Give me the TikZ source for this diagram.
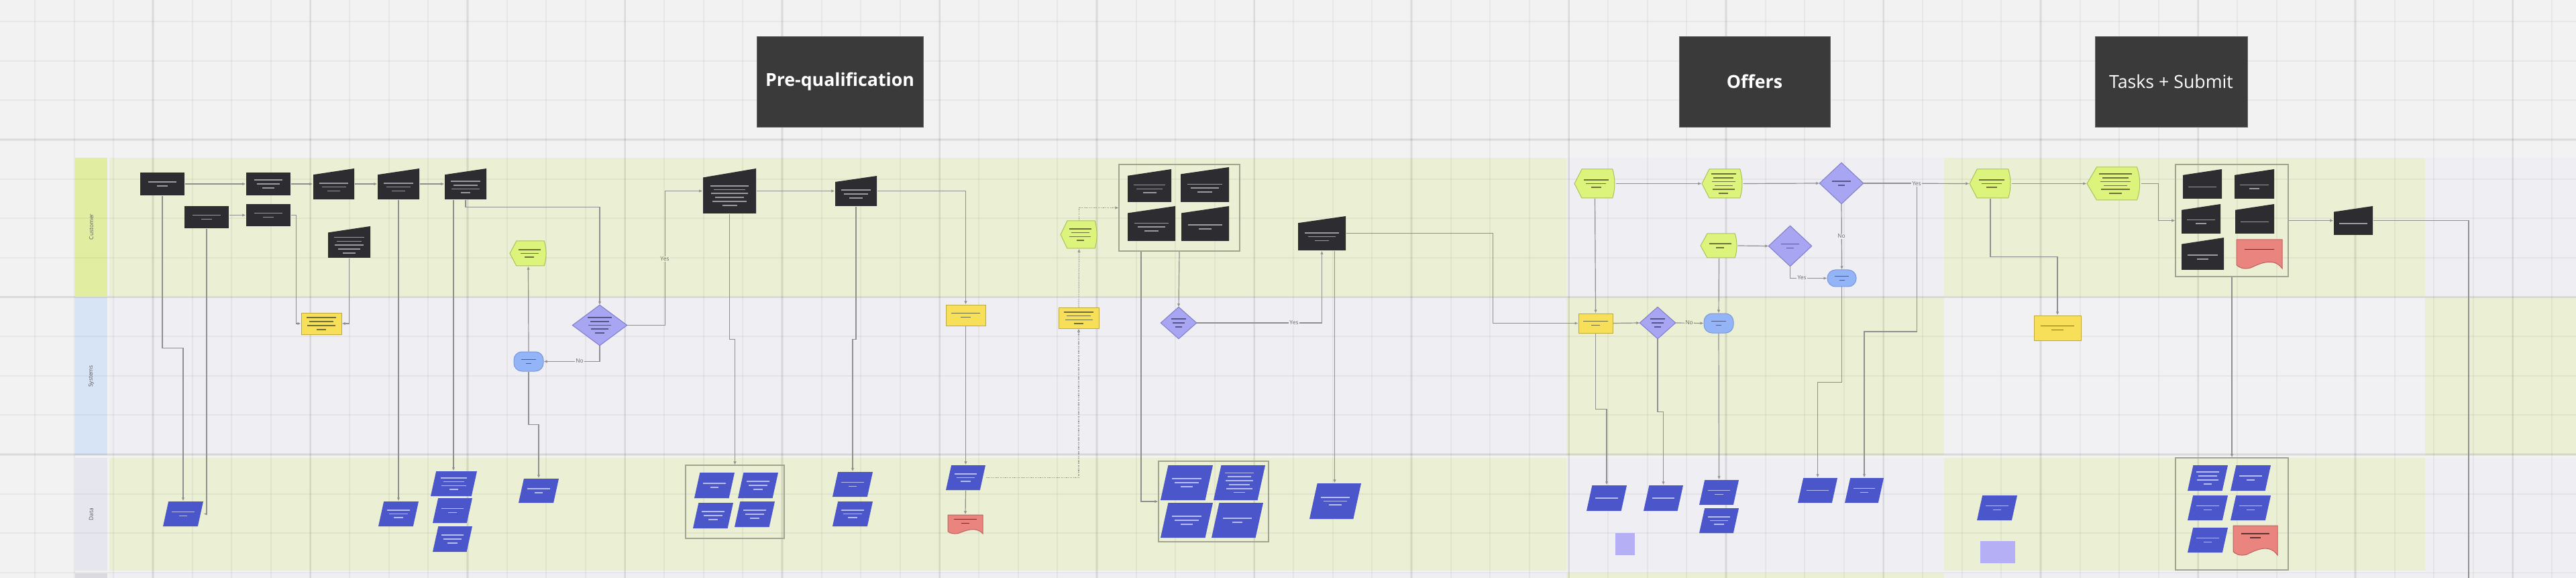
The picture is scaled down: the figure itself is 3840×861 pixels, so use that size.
\documentclass[tikz,border=0pt]{standalone}
\usepackage{fontspec}
\setmainfont{Open Sans}
\usetikzlibrary{fit,calc,arrows.meta}
\definecolor{bg}{HTML}{F2F2F2}
\definecolor{lgr}{HTML}{EBEFD4}
\definecolor{llv}{HTML}{EEEEF3}
\definecolor{lgy}{HTML}{F1F1F3}
\definecolor{lbc}{HTML}{E1EDA1}
\definecolor{lbs}{HTML}{D7E4F5}
\definecolor{lbd}{HTML}{E6E7EE}
\definecolor{lbf}{HTML}{DADAE0}
\definecolor{hdr}{HTML}{3A3A3A}
\definecolor{dk}{HTML}{2C2C31}
\definecolor{blu}{HTML}{4B56CB}
\definecolor{yel}{HTML}{F7DF5A}
\definecolor{yelb}{HTML}{BFA93C}
\definecolor{grn}{HTML}{DCF47C}
\definecolor{grnb}{HTML}{A9C158}
\definecolor{dia}{HTML}{A8A6F2}
\definecolor{diab}{HTML}{7E7CCB}
\definecolor{rnd}{HTML}{93B5F7}
\definecolor{rndb}{HTML}{7A98D8}
\definecolor{rdoc}{HTML}{E9847E}
\definecolor{rdocb}{HTML}{C06060}
\definecolor{lpur}{HTML}{B5AFF6}
\definecolor{cline}{HTML}{8F8F8F}
\definecolor{barg}{HTML}{9A9AA0}
\definecolor{barb}{HTML}{B8BEF2}
\definecolor{baro}{HTML}{6E6E3A}
\definecolor{bard}{HTML}{55558A}
\definecolor{barn}{HTML}{4E5C8C}
\definecolor{barr}{HTML}{5A3030}
\definecolor{grpb}{HTML}{A3A392}

\newcommand\BARS[8]{%
  \pgfmathsetmacro\bcx{((#1)+(#3))/2}%
  \pgfmathsetmacro\bcy{((#2)+(#4))/2+(#7)}%
  \pgfmathsetmacro\bhw{((#3)-(#1))*#8}%
  \foreach \bi in {1,...,#5}{%
    \pgfmathsetmacro\byy{\bcy+(\bi-(#5+1)/2)*5.8}%
    \pgfmathsetmacro\bfr{{1,0.82,0.95,0.74,0.9,0.86}[\bi-1]}%
    \pgfmathsetmacro\bw{\bhw*\bfr*ifthenelse(and(equal(\bi,#5),greater(#5,1)),0.45,1)}%
    \draw[draw=#6,line width=0.017cm] ({\bcx-\bw},\byy) -- ({\bcx+\bw},\byy);%
  }%
}
\newcommand\RECT[6]{%
  \node[fit={(#2,#3)(#4,#5)},inner sep=0pt,fill=dk] (#1) {};%
  \BARS{#2}{#3}{#4}{#5}{#6}{barg}{0}{0.32}}
\newcommand\MI[6]{%
  \node[fit={(#2,#3)(#4,#5)},inner sep=0pt] (#1) {};%
  \fill[dk] (#2,#5) -- (#4,#5) -- (#4,#3) -- (#2,{#3+0.2*(#5-#3)}) -- cycle;%
  \BARS{#2}{#3}{#4}{#5}{#6}{barg}{0.1*(#5-#3)}{0.36}}
\newcommand\PAR[6]{%
  \node[fit={(#2,#3)(#4,#5)},inner sep=0pt] (#1) {};%
  \fill[blu] ({#2+0.22*(#5-#3)},#3) -- (#4,#3) -- ({#4-0.22*(#5-#3)},#5) -- (#2,#5) -- cycle;%
  \BARS{#2}{#3}{#4}{#5}{#6}{barb}{0}{0.28}}
\newcommand\YEL[6]{%
  \node[fit={(#2,#3)(#4,#5)},inner sep=0pt,fill=yel,draw=yelb,line width=0.01cm] (#1) {};%
  \BARS{#2}{#3}{#4}{#5}{#6}{baro}{0}{0.36}}
\newcommand\DISP[6]{%
  \node[fit={(#2,#3)(#4,#5)},inner sep=0pt] (#1) {};%
  \filldraw[fill=grn,draw=grnb,line width=0.01cm] (#2,{(#3+#5)/2}) -- ({#2+0.18*(#4-#2)},#3) -- ({#4-0.07*(#4-#2)},#3) .. controls (#4,{#3+0.3*(#5-#3)}) and (#4,{#5-0.3*(#5-#3)}) .. ({#4-0.07*(#4-#2)},#5) -- ({#2+0.18*(#4-#2)},#5) -- cycle;%
  \BARS{(#2+0.06*(#4-#2))}{#3}{#4}{#5}{#6}{baro}{0}{0.32}}
\newcommand\DIA[6]{%
  \node[fit={(#2,#3)(#4,#5)},inner sep=0pt] (#1) {};%
  \filldraw[fill=dia,draw=diab,line width=0.01cm] (#1.north) -- (#1.east) -- (#1.south) -- (#1.west) -- cycle;%
  \BARS{#2}{#3}{#4}{#5}{#6}{bard}{0}{0.22}}
\newcommand\RND[6]{%
  \node[fit={(#2,#3)(#4,#5)},inner sep=0pt,fill=rnd,draw=rndb,line width=0.01cm,rounded corners=0.12cm] (#1) {};%
  \BARS{#2}{#3}{#4}{#5}{#6}{barn}{0}{0.25}}
\newcommand\DOC[6]{%
  \node[fit={(#2,#3)(#4,#5)},inner sep=0pt] (#1) {};%
  \pgfmathsetmacro\docw{#4-#2}\pgfmathsetmacro\doca{0.2*(#5-#3)}%
  \filldraw[fill=rdoc,draw=rdocb,line width=0.01cm] (#2,#3) -- (#4,#3) -- (#4,#5) .. controls ({#4-0.2*\docw},{#5-2.2*\doca}) and ({#2+0.45*\docw},{#5-0.6*\doca}) .. ({#2+0.3*\docw},{#5-0.1*\doca}) .. controls ({#2+0.15*\docw},{#5+0.2*\doca}) and ({#2+0.05*\docw},{#5-0.2*\doca}) .. (#2,{#5-0.6*\doca}) -- cycle;%
  \BARS{#2}{#3}{#4}{(#5-1.6*\doca)}{#6}{barr}{0}{0.32}}
\newcommand\GRP[5]{%
  \node[fit={(#2,#3)(#4,#5)},inner sep=0pt,draw=grpb,line width=0.012cm] (#1) {};}

\begin{document}
\begin{tikzpicture}[x=0.01cm,y=-0.01cm,
  cn/.style={draw=cline,line width=0.012cm,-{Latex[length=0.05cm,width=0.045cm]}},
  cnd/.style={cn,dash pattern=on 0.012cm off 0.014cm},
  cnn/.style={draw=cline,line width=0.012cm},
  lbl/.style={font=\fontsize{2.4}{2.6}\selectfont,text=black!60,inner sep=0.4pt},
  lane/.style={inner sep=0pt},
  lanetext/.style={rotate=90,font=\fontsize{2.4}{3}\selectfont,text=black!65},
  hdrbox/.style={inner sep=0pt,fill=hdr,draw=black!60,line width=0.008cm}]
\useasboundingbox (0,0) rectangle (3840,861);
\fill[bg] (0,0) rectangle (3840,861);
% lanes
\node[lane,fit={(112,235)(160,441)},fill=lbc,label={[lanetext]center:Customer}] (LC) {};
\fill[lgr] (163,235) rectangle (2335,441);
\fill[llv] (2335,235) rectangle (2898,441);
\fill[lgr] (2898,235) rectangle (3615,441);
\fill[llv] (3615,235) rectangle (3840,441);
\node[lane,fit={(112,443)(160,678)},fill=lbs,label={[lanetext]center:Systems}] (LS) {};
\fill[llv] (163,443) rectangle (2335,678);
\fill[lgr] (2335,443) rectangle (2898,678);
\fill[lgy] (2898,443) rectangle (3615,678);
\fill[lgr] (3615,443) rectangle (3840,678);
\node[lane,fit={(112,682)(160,850)},fill=lbd,label={[lanetext]center:Data}] (LD) {};
\fill[lgr] (163,682) rectangle (2335,850);
\fill[llv] (2335,682) rectangle (2898,850);
\fill[lgr] (2898,682) rectangle (3615,850);
\fill[llv] (3615,682) rectangle (3840,850);
\node[lane,fit={(112,854)(160,861)},fill=lbf] (LF) {};
\fill[llv] (163,854) rectangle (2335,861);
\fill[lgr] (2335,854) rectangle (2898,861);
\fill[llv] (2898,854) rectangle (3840,861);
% grid
\foreach \k in {0,...,66}{\pgfmathsetmacro\gx{-6.5+58.625*\k}
  \draw[black,opacity=0.045,line width=0.02cm] (\gx,0) -- (\gx,861);}
\foreach \k in {1,...,16}{\pgfmathsetmacro\gx{-6.5+234.5*\k}
  \draw[black,opacity=0.05,line width=0.035cm] (\gx,0) -- (\gx,861);}
\foreach \k in {-3,...,11}{\pgfmathsetmacro\gy{208+58.625*\k}
  \draw[black,opacity=0.045,line width=0.02cm] (0,\gy) -- (3840,\gy);}
\foreach \k in {0,4,8}{\pgfmathsetmacro\gy{208+58.625*\k}
  \draw[black,opacity=0.05,line width=0.035cm] (0,\gy) -- (3840,\gy);}
% headers
\node[hdrbox,fit={(1128,54)(1376,189)},label={[font=\fontsize{7.6}{9}\selectfont\bfseries,text=white]center:Pre-qualification}] (HP) {};
\node[hdrbox,fit={(2503,54)(2728,189)},label={[font=\fontsize{7.6}{9}\selectfont\bfseries,text=white]center:Offers}] (HO) {};
\node[hdrbox,fit={(3123,54)(3350,189)},label={[font=\fontsize{7.6}{9}\selectfont,text=white]center:Tasks + Submit}] (HT) {};
% customer lane
\RECT{C1}{209}{257}{275}{291}{2}
\RECT{C2}{367}{257}{433}{291}{3}
\MI{C3}{467}{251}{528}{297}{3}
\MI{C4}{563}{251}{625}{297}{3}
\MI{C5}{663}{251}{725}{297}{4}
\RECT{C6}{275}{307}{341}{340}{2}
\RECT{C7}{367}{304}{433}{337}{2}
\MI{C8}{489}{337}{552}{384}{5}
\DISP{G1}{760}{359}{815}{396}{3}
\MI{P1}{1048}{251}{1127}{318}{6}
\MI{P2}{1245}{262}{1307}{307}{3}
\DISP{G2}{1581}{329}{1636}{370}{4}
\GRP{GC1}{1668}{245}{1848}{374}
\MI{M1}{1681}{252}{1746}{301}{3}
\MI{M2}{1760}{249}{1832}{301}{3}
\MI{M3}{1681}{307}{1752}{359}{3}
\MI{M4}{1761}{307}{1832}{359}{2}
\MI{C9}{1935}{322}{2006}{373}{3}
\DISP{G3}{2347}{252}{2408}{295}{3}
\DISP{G4}{2537}{252}{2598}{295}{6}
\DIA{DM3}{2713}{243}{2777}{303}{2}
\DISP{G6}{2535}{348}{2590}{384}{2}
\DIA{DM4}{2637}{337}{2700}{396}{2}
\RND{O2}{2724}{402}{2767}{427}{2}
\DISP{G5}{2936}{252}{2998}{295}{3}
\DISP{G7}{3111}{249}{3191}{298}{6}
\GRP{GC2}{3243}{245}{3411}{412}
\MI{T1}{3254}{252}{3312}{296}{1}
\MI{T2}{3331}{252}{3390}{296}{2}
\MI{T3}{3252}{304}{3310}{348}{2}
\MI{T4}{3332}{304}{3390}{348}{1}
\MI{T5}{3252}{354}{3315}{402}{2}
\DOC{T6}{3334}{357}{3402}{400}{1}
\MI{C10}{3479}{307}{3537}{350}{1}
% systems lane
\YEL{S1}{449}{466}{509}{498}{4}
\DIA{DM1}{854}{455}{934}{514}{5}
\RND{O1}{766}{524}{810}{553}{2}
\YEL{S2}{1410}{454}{1469}{485}{2}
\YEL{S3}{1578}{458}{1638}{489}{4}
\DIA{DM2}{1731}{458}{1783}{504}{3}
\YEL{S4}{2353}{467}{2404}{496}{2}
\DIA{DM5}{2445}{458}{2497}{504}{3}
\RND{O3}{2540}{467}{2584}{496}{2}
\YEL{S5}{3032}{470}{3102}{507}{2}
% data lane
\PAR{D1}{243}{747}{303}{784}{2}
\PAR{D2}{564}{747}{624}{784}{3}
\PAR{D3}{642}{702}{711}{739}{4}
\PAR{D3b}{645}{742}{704}{779}{2}
\PAR{D3c}{645}{784}{704}{822}{3}
\PAR{D4}{773}{713}{833}{749}{2}
\GRP{GD1}{1022}{693}{1169}{802}
\PAR{E1}{1035}{704}{1095}{742}{2}
\PAR{E2}{1100}{704}{1160}{742}{3}
\PAR{E3}{1033}{749}{1093}{787}{3}
\PAR{E4}{1095}{747}{1155}{785}{3}
\PAR{D5}{1241}{703}{1301}{740}{2}
\PAR{D6}{1241}{747}{1301}{784}{3}
\PAR{D7}{1410}{693}{1469}{730}{3}
\DOC{R1}{1413}{767}{1465}{795}{2}
\GRP{GD2}{1727}{687}{1891}{807}
\PAR{F1}{1730}{693}{1808}{745}{3}
\PAR{F2}{1809}{693}{1886}{745}{6}
\PAR{F3}{1730}{749}{1808}{801}{3}
\PAR{F4}{1806}{749}{1883}{801}{2}
\PAR{D8}{1952}{720}{2029}{773}{3}
\PAR{D10}{2365}{723}{2425}{761}{1}
\node[fit={(2408,794)(2437,827)},inner sep=0pt,fill=lpur] (LP1) {};
\PAR{D11}{2450}{723}{2509}{761}{1}
\PAR{D12}{2533}{715}{2592}{752}{2}
\PAR{D13}{2533}{757}{2592}{794}{3}
\PAR{D14}{2680}{712}{2739}{749}{1}
\PAR{D9}{2750}{712}{2808}{749}{2}
\PAR{D15}{2947}{738}{3007}{775}{2}
\node[fit={(2952,806)(3004,839)},inner sep=0pt,fill=lpur] (LP2) {};
\GRP{GD3}{3243}{682}{3411}{849}
\PAR{H1}{3261}{693}{3321}{731}{4}
\PAR{H2}{3325}{693}{3385}{731}{2}
\PAR{H3}{3261}{738}{3321}{775}{2}
\PAR{H4}{3325}{738}{3385}{775}{2}
\PAR{H5}{3261}{786}{3321}{823}{2}
\DOC{H6}{3329}{783}{3395}{827}{2}
% connectors
\draw[cn] (C1.east) -- (C2.west);
\draw[cn] (C2.east) -- (C3.west);
\draw[cn] (C3.east) -- (C4.west);
\draw[cn] (C4.east) -- (C5.west);
\draw[cn] (C6.east |- C7.west) -- (C7.west);
\draw[cn] (C7.east) -- ++(8,0) |- (S1.west);
\draw[cn] (C8.south) |- (S1.east);
\draw[cn] (C1.south) -- ++(0,227) -| (D1.north);
\draw[cn] (C6.south) |- (D1.east);
\draw[cn] (C4.south) -- (D2.north);
\draw[cn] (C5.south) -- ++(0,11) -| (DM1.north);
\coordinate (c5a) at ($(C5.south)+(-18,0)$);
\draw[cn] (c5a) -- (c5a |- D3.north);
\draw[cn] (DM1.south) |- (O1.east);
\draw[cn] (O1.north) -- (G1.south);
\draw[cn] (O1.south) -- ++(0,79) -| (D4.north);
\draw[cn] (DM1.east) -- ++(57,0) |- (P1.west);
\draw[cn] (P1.east) -- (P2.west);
\draw[cn] (P2.east) -| (S2.north);
\draw[cn] (P1.south) -- ++(0,187) -| (GD1.north);
\draw[cn] (P2.south) -- ++(0,198) -| (D5.north);
\draw[cn] (S2.south) -- (D7.north);
\draw[cn] (D7.south) -- (R1.north);
\draw[cnd] (D7.east) -| (S3.south);
\draw[cnd] (S3.north) -- (G2.south);
\draw[cnd] (G2.north) |- (GC1.west);
\coordinate (gc1a) at ($(GC1.south)+(-57,0)$);
\draw[cn] (gc1a) |- (GD2.west);
\draw[cn] (GC1.south) -- (DM2.north);
\draw[cn] (DM2.east) -| (C9.south);
\coordinate (c9a) at ($(C9.south)+(19,0)$);
\draw[cn] (c9a) -- (c9a |- D8.north);
\draw[cn] (C9.east) -- ++(219,0) |- (S4.west);
\draw[cn] (G3.south) -- (S4.north);
\draw[cn] (S4.south) -- ++(0,113) -| (D10.north);
\draw[cn] (S4.east) -- (DM5.west);
\draw[cn] (DM5.east) -- (O3.west);
\draw[cn] (DM5.south) -- ++(0,109) -| (D11.north);
\draw[cn] (G6.south) -- (O3.north);
\draw[cn] (O3.south) -- (D12.north);
\draw[cn] (G3.east) -- (G4.west);
\draw[cn] (G4.east) -- (DM3.west);
\draw[cn] (DM3.east) -- (G5.west);
\draw[cn] (DM3.east) -- ++(80,0) -- ++(0,221) -| (D9.north);
\draw[cn] (DM3.south) -- (O2.north);
\draw[cn] (G6.east) -- (DM4.west);
\draw[cn] (DM4.south) |- (O2.west);
\draw[cn] (O2.south) -- ++(0,142) -| (D14.north);
\draw[cn] (G5.east) -- (G7.west);
\draw[cn] (G7.east) -- ++(26,0) |- (GC2.west);
\draw[cn] (GC2.east) -- (C10.west);
\coordinate (offpage) at (3680,861);
\draw[cnn] (C10.east) -| (offpage);
\draw[cn] (G5.south) -- ++(0,87) -| (S5.north);
\draw[cn] (GC2.south) -- (GD3.north);
% connector labels
\node[lbl,fill=lgr] (L1) at (991,386) {Yes};
\node[lbl,fill=llv] (L2) at (864,538) {No};
\node[lbl,fill=llv] (L3) at (1929,481) {Yes};
\node[lbl,fill=llv] (L4) at (2745,352) {No};
\node[lbl,fill=llv] (L5) at (2857,274) {Yes};
\node[lbl,fill=llv] (L6) at (2686,414) {Yes};
\node[lbl,fill=lgr] (L7) at (2518,481) {No};
\end{tikzpicture}
\end{document}
